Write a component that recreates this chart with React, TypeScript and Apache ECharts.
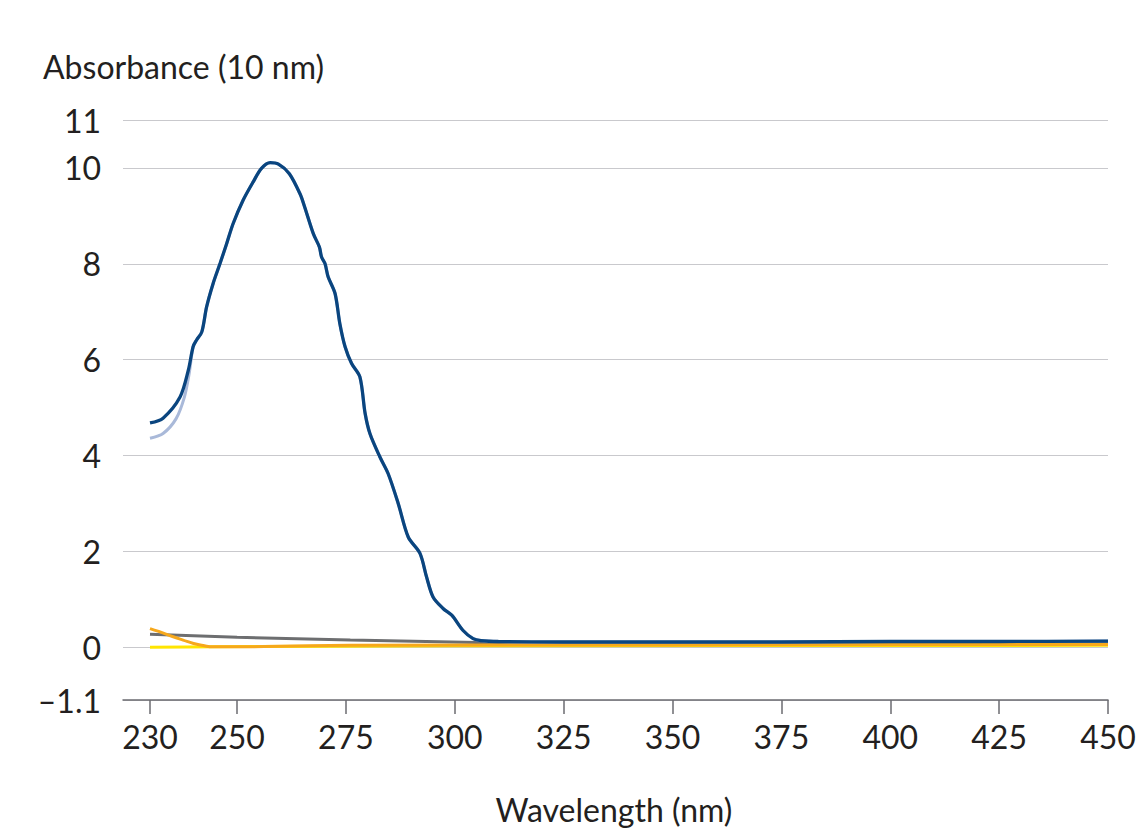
import React, { useEffect, useRef } from "react";
import * as echarts from "echarts";

// Wavelength (nm) / absorbance pairs
const darkBlueX = [230, 233, 236.9, 238.8, 239.9, 240.7, 241.9, 243, 244.5, 246.1, 247.6, 249.1, 251.4, 253.7, 255.6, 257.6, 259.5, 262, 264.5, 265.5, 267.5, 268.9, 269.4, 270.2, 270.9, 272.5, 273.6, 274.8, 276.3, 278.2, 279.4, 280.5, 282.8, 284.7, 287, 289.3, 292, 293.5, 295, 297.3, 299.3, 301.9, 304.2, 306, 310, 325, 350, 375, 400, 425, 450];
const darkBlueY = [4.68, 4.78, 5.22, 5.78, 6.27, 6.41, 6.58, 7.1, 7.59, 8.01, 8.42, 8.84, 9.33, 9.71, 9.99, 10.11, 10.08, 9.88, 9.45, 9.19, 8.63, 8.35, 8.14, 8.0, 7.73, 7.38, 6.75, 6.27, 5.92, 5.64, 4.88, 4.46, 3.97, 3.62, 3.0, 2.3, 1.96, 1.47, 1.05, 0.81, 0.67, 0.35, 0.18, 0.14, 0.12, 0.11, 0.11, 0.11, 0.12, 0.12, 0.13];

const lightBlueX = [230, 233, 236, 237.9, 239, 239.9];
const lightBlueY = [4.36, 4.46, 4.77, 5.22, 5.71, 6.27];

const grayX = [230, 250, 276, 305, 350, 450];
const grayY = [0.27, 0.21, 0.15, 0.1, 0.1, 0.1];

const orangeX = [230, 232, 235, 237.6, 240, 242.5, 244.5, 250, 260, 276, 350, 450];
const orangeY = [0.39, 0.33, 0.23, 0.15, 0.08, 0.03, 0.01, 0.01, 0.02, 0.04, 0.05, 0.06];

const yellowX = [230, 245, 300, 450];
const yellowY = [0, 0.01, 0.03, 0.04];

const xTicks = [230, 250, 275, 300, 325, 350, 375, 400, 425, 450];
const yTicks = [-1.1, 0, 2, 4, 6, 8, 10, 11];

const yAxisTitle = "Absorbance (10 nm)";
const xAxisTitle = "Wavelength (nm)";

const pairs = (xs: number[], ys: number[]) => xs.map((x, i) => [x, ys[i]]);

const FONT = "Lato";
const TEXT = "#231f20";

export default function App() {
  const ref = useRef<HTMLDivElement>(null);

  useEffect(() => {
    if (!ref.current) return;
    const chart = echarts.init(ref.current, null, { renderer: "svg" });

    const darkBlue = pairs(darkBlueX, darkBlueY);
    const lightBlue = pairs(lightBlueX, lightBlueY).concat(
      darkBlue.filter((p) => p[0] > lightBlueX[lightBlueX.length - 1])
    );

    const lineSeries = (name: string, data: number[][], color: string, smooth: number | boolean, width = 3) => ({
      name,
      type: "line",
      data,
      smooth,
      showSymbol: false,
      symbol: "none",
      lineStyle: { color, width },
      itemStyle: { color },
      z: 3,
    });

    chart.setOption({
      animation: false,
      grid: { left: 123, right: 32, top: 120, bottom: 128, containLabel: false },
      xAxis: {
        type: "value",
        min: 223.8,
        max: 450,
        axisLine: { onZero: false, lineStyle: { color: "#6b6b70", width: 1.5 } },
        axisTick: {
          show: true,
          length: 14,
          customValues: xTicks,
          lineStyle: { color: "#6b6b70", width: 1.5 },
        },
        axisLabel: {
          customValues: xTicks,
          color: TEXT,
          fontFamily: FONT,
          fontSize: 32,
          margin: 20,
        },
        splitLine: { show: false },
      },
      yAxis: {
        type: "value",
        min: -1.1,
        max: 11,
        axisLine: { show: false },
        axisTick: { show: false, customValues: yTicks },
        axisLabel: {
          customValues: yTicks,
          color: TEXT,
          fontFamily: FONT,
          fontSize: 32,
          margin: 22,
          formatter: (v: number) => (v < 0 ? "\u2013" + String(Math.abs(v)) : String(v)),
        },
        splitLine: { show: true, lineStyle: { color: "#c9c9cd", width: 1.2 } },
      },
      graphic: [
        {
          type: "text",
          left: 43,
          top: 50,
          style: { text: yAxisTitle, fill: TEXT, font: `32px ${FONT}` },
        },
        {
          type: "text",
          x: 614,
          y: 809,
          style: {
            text: xAxisTitle,
            fill: TEXT,
            font: `32px ${FONT}`,
            textAlign: "center",
            textVerticalAlign: "middle",
          },
        },
      ],
      series: [
        lineSeries("Yellow", pairs(yellowX, yellowY), "#ffe500", 0.3),
        lineSeries("Gray", pairs(grayX, grayY), "#6d6e70", false),
        lineSeries("Orange", pairs(orangeX, orangeY), "#f6a81c", 0.5),
        lineSeries("Light blue", lightBlue, "#a9b9d9", 0.3),
        lineSeries("Dark blue", darkBlue, "#0a457f", 0.3, 3.3),
      ],
    });

    return () => chart.dispose();
  }, []);

  return (
    <div
      ref={ref}
      style={{ position: "fixed", left: 0, top: 0, width: 1140, height: 828, background: "#fff" }}
    />
  );
}
